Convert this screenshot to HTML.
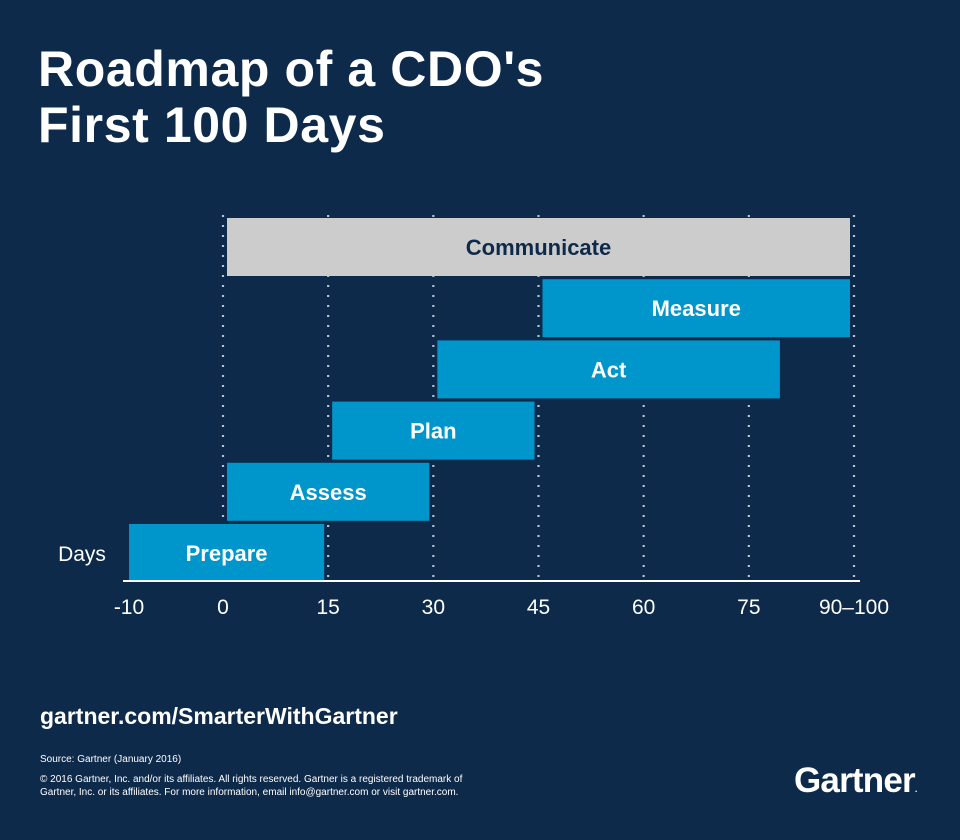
<!DOCTYPE html>
<html><head><meta charset="utf-8">
<style>
html,body{margin:0;padding:0;}
body{width:960px;height:840px;background:#0e2a4b;position:relative;overflow:hidden;font-family:"Liberation Sans",Arial,sans-serif;color:#fff;}
.t{position:absolute;white-space:nowrap;}
</style></head>
<body>
<div class="t" style="left:38px;top:41px;font-size:50px;font-weight:bold;line-height:56px;letter-spacing:0.6px;">Roadmap of a CDO's<br>First 100 Days</div>
<svg id="chart" width="960" height="640" style="position:absolute;left:0;top:0;"></svg>
<div class="t" style="left:40px;top:703px;font-size:23px;font-weight:bold;">gartner.com/SmarterWithGartner</div>
<div class="t" style="left:40px;top:754px;font-size:10px;">Source: Gartner (January 2016)</div>
<div class="t" style="left:40px;top:773px;font-size:10px;line-height:13px;">© 2016 Gartner, Inc. and/or its affiliates. All rights reserved. Gartner is a registered trademark of<br>Gartner, Inc. or its affiliates. For more information, email info@gartner.com or visit gartner.com.</div>
<div class="t" style="left:794px;top:761px;font-size:35px;font-weight:bold;letter-spacing:-0.8px;">Gartner<span style="font-size:9px;">.</span></div>
<script>
const tickValues = [-10, 0, 15, 30, 45, 60, 75, 90];
const tickLabels = ["-10", "0", "15", "30", "45", "60", "75", "90–100"];
const tasks = ["Communicate", "Measure", "Act", "Plan", "Assess", "Prepare"];
const taskStart = [0, 45, 30, 15, 0, -10];
const taskEnd = [90, 90, 80, 45, 30, 15];

const svg = document.getElementById('chart');
const NS = 'http://www.w3.org/2000/svg';
function x(v){
  if (v < 0) return 223 + v * 9.4;
  return 223 + v * (854 - 223) / 90;
}
const rowTop = 218, rowPitch = 61.2, barH = 58, axisY = 581;
function mk(tag, attrs){ const e=document.createElementNS(NS,tag); for(const k in attrs) e.setAttribute(k,attrs[k]); svg.appendChild(e); return e; }

tickValues.forEach((v,i)=>{
  if (v < 0) return;
  const g = mk('line',{x1:x(v),x2:x(v),y1:215,y2:axisY,stroke:'#b8c4d2','stroke-width':2.2,'stroke-dasharray':'2 8'});
  
  
});
tasks.forEach((name,i)=>{
  const x0 = x(taskStart[i]) + (taskStart[i] < 0 ? 0 : 4);
  const x1 = x(taskEnd[i]) - 4;
  const y = rowTop + i*rowPitch;
  const grey = i === 0;
  const r = mk('rect',{x:x0,y:y,width:x1-x0,height:barH,fill:grey?'#cccccc':'#0096cc'});
  
  
  const t = mk('text',{x:(x0+x1)/2,y:y+barH/2+8,'text-anchor':'middle','font-size':22,'font-weight':'bold','font-family':'Liberation Sans, Arial, sans-serif',fill:grey?'#0e2a4b':'#ffffff'});
  t.textContent = name;
  
  
});
const ax = mk('line',{x1:123,x2:860,y1:axisY,y2:axisY,stroke:'#ffffff','stroke-width':2});


tickValues.forEach((v,i)=>{
  const px = v < 0 ? 129 : x(v);
  const t = mk('text',{x:px,y:614,'text-anchor':'middle','font-size':21,'font-family':'Liberation Sans, Arial, sans-serif',fill:'#ffffff'});
  t.textContent = tickLabels[i];
  
  
});
const yl = mk('text',{x:82,y:561,'text-anchor':'middle','font-size':21,'font-family':'Liberation Sans, Arial, sans-serif',fill:'#ffffff'});
yl.textContent = 'Days';


</script>
</body></html>
